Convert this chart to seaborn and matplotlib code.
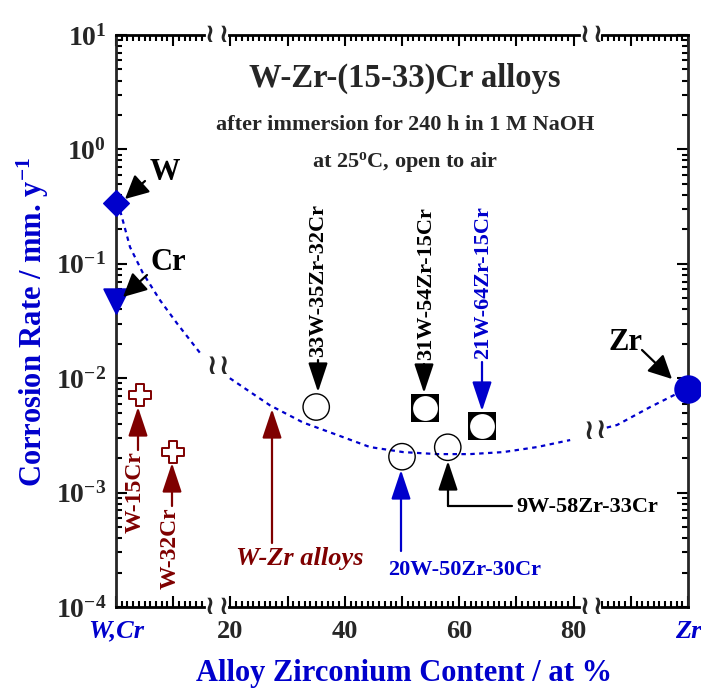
import matplotlib
matplotlib.use("Agg")
import matplotlib.pyplot as plt
import matplotlib.transforms as mtransforms
from matplotlib.ticker import FixedLocator, FixedFormatter, LogLocator, NullFormatter
import pandas as pd
import seaborn as sns

sns.set_style("ticks")
plt.rcParams["font.family"] = ["Liberation Serif", "DejaVu Serif"]
plt.rcParams["font.weight"] = "bold"
plt.rcParams["mathtext.fontset"] = "custom"
plt.rcParams["mathtext.rm"] = "Liberation Serif:bold"
plt.rcParams["mathtext.bf"] = "Liberation Serif:bold"
plt.rcParams["mathtext.it"] = "Liberation Serif:italic:bold"

BLUE = "#0000CC"
DARKRED = "#7F0000"

# ---- data: corrosion rate (mm/y) vs. alloy Zr content (at %) ----
pure_names = ["W", "Cr", "Zr"]
pure_zr = [0, 0, 100]
pure_rate = [0.34, 0.047, 0.0080]

binary_names = ["W-15Cr", "W-32Cr"]
binary_pos = [4.2, 9.9]
binary_rate = [0.0071, 0.00228]

ternary_names = ["33W-35Zr-32Cr", "20W-50Zr-30Cr", "9W-58Zr-33Cr"]
ternary_zr = [35, 50, 58]
ternary_rate = [0.0056, 0.00206, 0.00249]

low_cr_names = ["31W-54Zr-15Cr", "21W-64Zr-15Cr"]
low_cr_zr = [54, 64]
low_cr_rate = [0.00546, 0.00382]

# W-Zr binary alloy trend (broken into three pieces at the axis breaks)
wzr_x1 = [0, 0.7, 2.45, 4.7, 7.7, 10.7, 14.7]
wzr_y1 = [0.34, 0.295, 0.14, 0.083, 0.048, 0.030, 0.0166]
wzr_x2 = [19.9, 26.9, 32.7, 38.6, 44.4, 50.2, 56.1, 61.9, 67.7, 73.6, 79.4]
wzr_y2 = [0.0100, 0.0058, 0.0041, 0.0032, 0.0025, 0.00226, 0.00217, 0.00217,
          0.00226, 0.0025, 0.00288]
wzr_x3 = [85.8, 87.6, 93.4, 98.0, 100]
wzr_y3 = [0.0037, 0.0039, 0.0056, 0.0073, 0.0080]

x_tick_pos = [0, 20, 40, 60, 80, 100]
x_tick_text = ["W,Cr", "20", "40", "60", "80", "Zr"]
y_tick_pos = [1e-4, 1e-3, 1e-2, 1e-1, 1e0, 1e1]
y_tick_text = [r"$\mathbf{10^{-4}}$", r"$\mathbf{10^{-3}}$", r"$\mathbf{10^{-2}}$",
               r"$\mathbf{10^{-1}}$", r"$\mathbf{10^{0}}$", r"$\mathbf{10^{1}}$"]

fig = plt.figure(figsize=(7.01, 6.89), dpi=100)
ax = fig.add_axes([116 / 701, 1 - 607 / 689, 572 / 701, 572 / 689])
ax.set_yscale("log")
ax.set_xlim(0, 100)
ax.set_ylim(1e-4, 1e1)


def px(x, y):
    """Axes-fraction position from figure pixel position."""
    return ((x - 116) / 572, (607 - y) / 572)


# trend curve
curve = pd.concat([
    pd.DataFrame({"zr": wzr_x1, "rate": wzr_y1, "piece": 1}),
    pd.DataFrame({"zr": wzr_x2, "rate": wzr_y2, "piece": 2}),
    pd.DataFrame({"zr": wzr_x3, "rate": wzr_y3, "piece": 3}),
])
for _, part in curve.groupby("piece"):
    sns.lineplot(data=part, x="zr", y="rate", ax=ax, color=BLUE, lw=1.6,
                 linestyle=(0, (2, 2)), sort=False, estimator=None, zorder=2)

# pure metals
sns.scatterplot(x=[pure_zr[0]], y=[pure_rate[0]], marker="D", s=170, color=BLUE,
                edgecolor=BLUE, ax=ax, clip_on=False, zorder=5)
sns.scatterplot(x=[pure_zr[1]], y=[pure_rate[1]], marker="v", s=310, color=BLUE,
                edgecolor=BLUE, ax=ax, clip_on=False, zorder=5)
sns.scatterplot(x=[pure_zr[2]], y=[pure_rate[2]], marker="o", s=360, color=BLUE,
                edgecolor=BLUE, ax=ax, clip_on=False, zorder=5)

# W-Cr binaries
sns.scatterplot(x=binary_pos, y=binary_rate, marker="P", s=240, facecolor="white",
                edgecolor=DARKRED, linewidth=1.4, ax=ax, zorder=5)

# ternary alloys
sns.scatterplot(x=ternary_zr, y=ternary_rate, marker="o", s=360, facecolor="none",
                edgecolor="black", linewidth=1.0, ax=ax, zorder=5)
sns.scatterplot(x=low_cr_zr, y=low_cr_rate, marker="s", s=400, color="black",
                edgecolor="black", linewidth=0, ax=ax, zorder=5)
sns.scatterplot(x=low_cr_zr, y=low_cr_rate, marker="o", s=320, color="white",
                edgecolor="white", linewidth=0, ax=ax, zorder=6)

# ---- axes styling ----
ax.set_xlabel("")
ax.set_ylabel("")
for side in ("left", "right"):
    ax.spines[side].set_linewidth(2)
for side in ("top", "bottom"):
    ax.spines[side].set_visible(False)

xaxis_tr = mtransforms.blended_transform_factory(ax.transData, ax.transAxes)
for x0, x1 in [(0, 15.3), (19.7, 81.0), (84.9, 100)]:
    for yy in (0, 1):
        ax.plot([x0, x1], [yy, yy], transform=xaxis_tr, color="black", lw=2,
                solid_capstyle="projecting", clip_on=False, zorder=7)
for xb in (16.3, 18.8, 81.9, 84.2):
    for yy in (0, 1):
        ax.text(xb, yy, "\u2240", transform=xaxis_tr, ha="center", va="center",
                fontsize=19, fontweight="bold", family="DejaVu Sans", zorder=7)
# breaks on the trend curve
for xb, yy in [(16.8, 0.421), (18.9, 0.421), (82.6, 0.307), (84.7, 0.310)]:
    ax.text(xb, yy, "\u2240", transform=xaxis_tr, ha="center", va="center",
            fontsize=20, fontweight="bold", family="DejaVu Sans", zorder=7)

minor_x = [v for v in range(0, 101) if v % 10 and not (16 <= v <= 19) and not (81 <= v <= 84)]
ax.xaxis.set_major_locator(FixedLocator(list(range(0, 101, 10))))
ax.xaxis.set_minor_locator(FixedLocator(minor_x))
ax.set_xticklabels(["W,Cr", "", "20", "", "40", "", "60", "", "80", "", "Zr"])
ax.yaxis.set_major_locator(FixedLocator(y_tick_pos))
ax.yaxis.set_major_formatter(FixedFormatter(y_tick_text))
ax.yaxis.set_minor_locator(LogLocator(base=10, subs=range(2, 10), numticks=20))
ax.yaxis.set_minor_formatter(NullFormatter())

ax.tick_params(which="both", direction="in", top=True, right=True, width=1.5, color="black")
ax.tick_params(which="major", length=8)
ax.tick_params(which="minor", length=4.5)
ax.tick_params(axis="x", which="major", labelsize=19, pad=9)
ax.tick_params(axis="y", which="major", labelsize=20, pad=7)
for lab in ax.get_xticklabels() + ax.get_yticklabels():
    lab.set_fontweight("bold")
xl = ax.get_xticklabels()
for i in (0, 10):
    xl[i].set_color(BLUE)
    xl[i].set_fontstyle("italic")

fig.text(33 / 701, 1 - 322 / 689, r"Corrosion Rate / mm. y$^{\mathbf{-1}}$",
         rotation=90, ha="center", va="center", fontsize=22, fontweight="bold", color=BLUE)
fig.text(404 / 701, 1 - 674 / 689, "Alloy Zirconium Content / at %",
         ha="center", va="center", fontsize=22, fontweight="bold", color=BLUE)

# ---- titles ----
ax.text(*px(405, 78), "W-Zr-(15-33)Cr alloys", transform=ax.transAxes,
        ha="center", va="center", fontsize=23.5, fontweight="bold")
ax.text(*px(405, 125), "after immersion for 240 h in 1 M NaOH", transform=ax.transAxes,
        ha="center", va="center", fontsize=16, fontweight="bold")
ax.text(*px(405, 162), r"at 25$^{\mathbf{o}}$C, open to air", transform=ax.transAxes,
        ha="center", va="center", fontsize=16, fontweight="bold")


def arrow(tail, tip, color, hl=0.9, hw=0.3, ms=20):
    ax.annotate("", xy=px(*tip), xytext=px(*tail), xycoords="axes fraction",
                textcoords="axes fraction", annotation_clip=False,
                arrowprops=dict(arrowstyle=f"-|>,head_length={hl},head_width={hw}",
                                mutation_scale=ms, color=color, lw=1.6,
                                shrinkA=0, shrinkB=0), zorder=8)


def label(pos, text, color="black", size=16, rot=0, style="normal"):
    ax.text(*px(*pos), text, transform=ax.transAxes, ha="center", va="center",
            fontsize=size, fontweight="bold", color=color, rotation=rot,
            fontstyle=style, zorder=8)


# pure metals
label((165, 172), pure_names[0], size=22)
arrow((145, 181), (125, 199), "black", hl=0.8, hw=0.4, ms=18)
label((168, 262), pure_names[1], size=22)
arrow((147, 275), (123, 297), "black", hl=0.8, hw=0.4, ms=18)
label((626, 342), pure_names[2], size=22)
arrow((642, 350), (672, 379), "black", hl=0.8, hw=0.4, ms=18)

# binaries
label((135, 492), binary_names[0], color=DARKRED, size=17, rot=90)
arrow((138, 450), (138, 407), DARKRED)
label((170, 548), binary_names[1], color=DARKRED, size=17, rot=90)
arrow((172, 506), (172, 463), DARKRED)
label((300, 559), "W-Zr alloys", color=DARKRED, size=19, style="italic")
arrow((272, 543), (272, 409), DARKRED)

# ternaries
label((318, 280), ternary_names[0], size=16, rot=90)
arrow((318, 360), (318, 392), "black")
label((465, 570), ternary_names[1], color=BLUE, size=16)
arrow((401, 551), (401, 470), BLUE)
label((587, 507), ternary_names[2], size=16)
ax.plot([px(512, 0)[0], px(448, 0)[0]], [px(0, 506)[1]] * 2,
        transform=ax.transAxes, color="black", lw=1.6, clip_on=False, zorder=8)
arrow((448, 506), (448, 461), "black")

label((426, 284), low_cr_names[0], size=16, rot=90)
arrow((424, 364), (424, 393), "black")
label((483, 283), low_cr_names[1], color=BLUE, size=16, rot=90)
arrow((482, 362), (482, 411), BLUE)

fig.savefig("out.png", dpi=100)
